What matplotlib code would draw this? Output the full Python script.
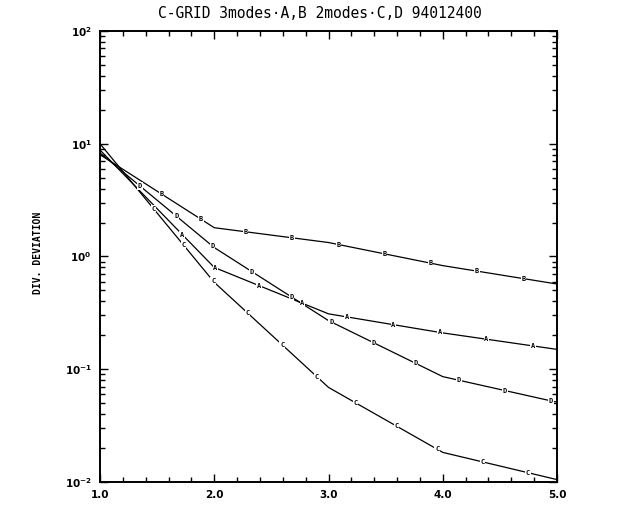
import numpy as np
import matplotlib
matplotlib.use("Agg")
import matplotlib.pyplot as plt
from matplotlib.ticker import FixedLocator, MultipleLocator, LogLocator, NullFormatter, FuncFormatter

# resolution factor vs. divergence deviation
x = [1.0, 2.0, 3.0, 4.0, 5.0]
dev_a = [8.8, 0.80, 0.31, 0.21, 0.15]
dev_b = [8.0, 1.80, 1.33, 0.83, 0.57]
dev_c = [10.0, 0.59, 0.069, 0.0183, 0.0105]
dev_d = [8.3, 1.20, 0.27, 0.086, 0.051]
curve_tags = ["A", "B", "C", "D"]
# arc-length offset (px) of the first letter on each curve
tag_starts = [118, 73, 84, 52]

x_ticks = [1.0, 2.0, 3.0, 4.0, 5.0]
y_ticks = [1e-2, 1e-1, 1e0, 1e1, 1e2]

fig = plt.figure(figsize=(6.4, 5.08), dpi=100)
ax = fig.add_axes([0.15625, 0.0512, 0.7141, 0.8878])
ax.set_yscale("log")
ax.set_xlim(1.0, 5.0)
ax.set_ylim(1e-2, 1e2)

series = [dev_a, dev_b, dev_c, dev_d]
for ys in series:
    ax.plot(x, ys, color="black", lw=0.9, solid_capstyle="butt")


def tag_curve(xs, ys, tag, start=28.0, step=47.0):
    # repeat the curve letter along the line at even arc-length spacing
    pts = ax.transData.transform(np.column_stack([xs, ys]))
    seg = np.diff(pts, axis=0)
    seglen = np.hypot(seg[:, 0], seg[:, 1])
    cum = np.concatenate([[0.0], np.cumsum(seglen)])
    inv = ax.transData.inverted()
    s = start
    while s < cum[-1] - 2:
        i = min(np.searchsorted(cum, s) - 1, len(seglen) - 1)
        t = (s - cum[i]) / seglen[i]
        p = pts[i] + t * seg[i]
        xd, yd = inv.transform(p)
        ax.text(xd, yd, tag, fontsize=5, fontweight="bold", family="DejaVu Sans Mono",
                ha="center", va="center", zorder=3,
                bbox=dict(fc="white", ec="none", pad=0.5))
        s += step


for ys, tag, st in zip(series, curve_tags, tag_starts):
    tag_curve(x, ys, tag, start=st)

ax.xaxis.set_major_locator(FixedLocator(x_ticks))
ax.xaxis.set_minor_locator(MultipleLocator(0.2))
ax.xaxis.set_major_formatter(FuncFormatter(lambda v, p: f"{v:.1f}"))
ax.yaxis.set_major_locator(FixedLocator(y_ticks))
ax.yaxis.set_minor_locator(LogLocator(base=10, subs=np.arange(2, 10)))
ax.yaxis.set_minor_formatter(NullFormatter())
ax.yaxis.set_major_formatter(FuncFormatter(lambda v, p: r"$\mathbf{10^{%d}}$" % round(np.log10(v))))

ax.tick_params(which="both", direction="in", top=True, right=True, width=1.0)
ax.tick_params(which="major", length=6)
ax.tick_params(which="minor", length=3.5)
ax.tick_params(axis="x", which="major", pad=6, labelsize=7.5)
ax.tick_params(axis="y", which="major", pad=6, labelsize=7.5)
for lab in ax.get_xticklabels():
    lab.set_fontweight("bold")
for sp in ax.spines.values():
    sp.set_linewidth(1.4)

fig.text(0.5, 1 - 14 / 508, "C-GRID 3modes·A,B 2modes·C,D 94012400",
         ha="center", va="center", fontsize=10.5, family="DejaVu Sans Mono")
fig.text(38 / 640, 1 - 253 / 508, "DIV. DEVIATION", rotation=90,
         ha="center", va="center", fontsize=7, fontweight="bold", family="DejaVu Sans Mono")

fig.savefig("out.png", dpi=100)
